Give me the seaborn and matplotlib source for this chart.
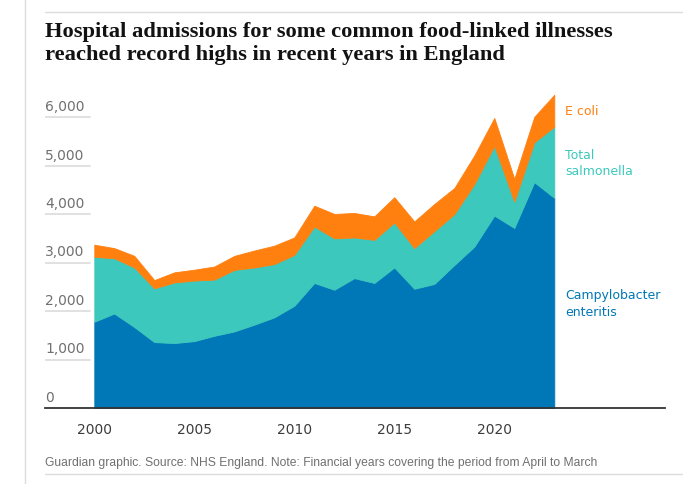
# Hospital admissions for food-linked illnesses in England (stacked areas)
import pandas as pd
import seaborn as sns
import matplotlib.pyplot as plt
from matplotlib.lines import Line2D
from matplotlib import transforms

sns.set_theme(style="white")
plt.rcParams["font.family"] = ["DejaVu Sans"]

# datos
years = list(range(2000, 2024))
campylobacter = [1780, 1950, 1670, 1360, 1340, 1380, 1490, 1580, 1720, 1870, 2110, 2580,
                 2440, 2680, 2580, 2900, 2460, 2560, 2950, 3330, 3970, 3715, 4660, 4335]
salmonella = [1340, 1140, 1230, 1110, 1250, 1250, 1160, 1270, 1180, 1100, 1050, 1165,
              1060, 840, 890, 930, 840, 1090, 1050, 1290, 1440, 545, 825, 1470]
e_coli = [250, 210, 240, 170, 210, 225, 270, 290, 350, 380, 360, 430,
          505, 505, 485, 520, 550, 560, 540, 590, 575, 470, 525, 660]
series_labels = ["Campylobacter\nenteritis", "Total\nsalmonella", "E coli"]
y_ticks = [0, 1000, 2000, 3000, 4000, 5000, 6000]
x_ticks = [2000, 2005, 2010, 2015, 2020]

colours = ["#0077b6", "#3cc8bc", "#ff7f0f"]

df = pd.DataFrame({"campylobacter": campylobacter,
                   "salmonella": salmonella,
                   "e_coli": e_coli}, index=years)

W, H = 683, 485
fig = plt.figure(figsize=(W / 100, H / 100), dpi=100)
fig.patch.set_facecolor("white")

left, right = 45, 665
bottom, top = 409, 89.2
ax = fig.add_axes([left / W, 1 - bottom / H, (right - left) / W, (bottom - top) / H])

polys = ax.stackplot(df.index, df.T.values, colors=colours, linewidth=0.6)
for p, c in zip(polys, colours):
    p.set_edgecolor(c)

ax.set_xlim(1997.535, 2028.535)
ax.set_ylim(0, 6600)

# ejes al estilo Guardian
sns.despine(ax=ax, left=True, top=True, right=True)
ax.spines["bottom"].set_color("#333333")
ax.spines["bottom"].set_linewidth(1.3)
ax.set_yticks([])
ax.set_xticks(x_ticks)
ax.set_xticklabels([str(x) for x in x_ticks])
ax.tick_params(axis="x", length=6, width=0.8, color="#c8c8c8", pad=4,
               labelsize=10, labelcolor="#3c3c3c")

trans = transforms.blended_transform_factory(ax.transAxes, ax.transData)
offset = transforms.ScaledTranslation(0, 3 / 72, fig.dpi_scale_trans)
for v in y_ticks:
    if v > 0:
        ax.axhline(v, xmin=0, xmax=(90 - left) / (right - left), color="#dcdcdc",
                   linewidth=1.2, zorder=0)
    ax.text(0, v, f"{v:,}", transform=trans + offset, ha="left", va="bottom",
            fontsize=10, color="#707070")

# etiquetas de las series al final
last = df.iloc[-1]
cum = 0
for col, lab, c in zip(df.columns, series_labels, colours):
    mid = cum + last[col] / 2
    cum += last[col]
    ax.text(df.index[-1] + 0.55, mid, lab, color=c, fontsize=9,
            ha="left", va="center", linespacing=1.35)

# titulo y pie
fig.text(45 / W, 1 - 22 / H,
         "Hospital admissions for some common food-linked illnesses\nreached record highs in recent years in England",
         ha="left", va="top", fontsize=16.2, fontweight="bold",
         family=["Liberation Serif", "DejaVu Serif"], color="#121212", linespacing=1.22)
fig.text(45 / W, 1 - 463 / H,
         "Guardian graphic. Source: NHS England. Note: Financial years covering the period from April to March",
         ha="left", va="center", fontsize=8.7, color="#707070",
         family=["Liberation Sans Narrow", "Liberation Sans", "DejaVu Sans"])

# lineas del marco
fig.add_artist(Line2D([24.5 / W, 24.5 / W], [0, 1], transform=fig.transFigure,
                      color="#dcdcdc", linewidth=1))
for yy in (13, 475):
    fig.add_artist(Line2D([45 / W, 1], [1 - yy / H, 1 - yy / H], transform=fig.transFigure,
                          color="#dcdcdc", linewidth=1))

fig.savefig("out.png", dpi=100, facecolor="white")
